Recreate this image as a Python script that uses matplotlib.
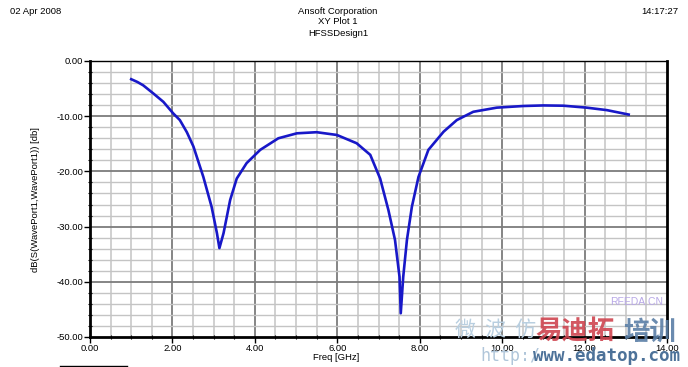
import matplotlib
matplotlib.use('Agg')
import matplotlib.pyplot as plt
from matplotlib.lines import Line2D
import numpy as np

# S11 curve
freq_ghz = [1.00, 1.15, 1.29, 1.54, 1.78, 2.02, 2.18, 2.35, 2.51, 2.75, 2.95, 3.08, 3.14,
            3.24, 3.40, 3.56, 3.80, 4.13, 4.57, 5.02, 5.50, 5.99, 6.47, 6.80, 7.04,
            7.24, 7.40, 7.51, 7.54, 7.60, 7.69, 7.81, 7.97, 8.21, 8.58, 8.90, 9.30,
            9.87, 10.52, 11.00, 11.49, 12.05, 12.54, 13.07]
s11_db = [-3.3, -3.8, -4.4, -5.9, -7.4, -9.5, -10.7, -12.9, -15.5, -21.0, -26.4, -31.2, -33.9,
          -31.2, -25.2, -21.3, -18.5, -16.1, -14.0, -13.1, -12.9, -13.4, -14.9, -17.0, -21.3,
          -27.0, -32.4, -39.1, -45.7, -39.1, -32.4, -26.4, -21.0, -16.1, -12.8, -10.7, -9.2,
          -8.45, -8.15, -8.05, -8.1, -8.45, -8.9, -9.7]

x_ticks = [0, 2, 4, 6, 8, 10, 12, 14]
y_ticks = [0, -10, -20, -30, -40, -50]

W, H = 688, 367
fig = plt.figure(figsize=(W / 100, H / 100), dpi=100)
fs = 6.8
font = 'Liberation Sans'
plt.rcParams['font.family'] = [font, 'DejaVu Sans']

ax = fig.add_axes([90 / W, 1 - 337 / H, (667 - 90) / W, (337 - 61) / H])
ax.set_xlim(0, 14)
ax.set_ylim(-50, 0)

# grid: light every 0.5 GHz / 2 dB, dark every 2 GHz / 10 dB
for xv in np.arange(0.5, 14, 0.5):
    dark = abs(xv / 2 - round(xv / 2)) < 1e-6
    ax.axvline(xv, color='#7c7c7c' if dark else '#c4c4c4', lw=1.3 if dark else 1.1, zorder=1)
for yv in np.arange(-48, 0, 2):
    dark = yv % 10 == 0
    ax.axhline(yv, color='#7c7c7c' if dark else '#c4c4c4', lw=1.3 if dark else 1.0, zorder=1)

ax.plot(freq_ghz, s11_db, color='#1818c8', lw=1.9, zorder=3, solid_joinstyle='round')

ax.set_xticks(x_ticks)
ax.set_xticklabels(['%.2f' % v for v in x_ticks], fontsize=fs)
ax.set_yticks(y_ticks)
ax.set_yticklabels(['%.2f' % v if v != 0 else '0.00' for v in y_ticks], fontsize=fs)
ax.set_yticks(np.arange(-48, 0, 2), minor=True)
ax.set_xticks(np.arange(0.5, 14, 0.5), minor=True)
ax.tick_params(axis='both', which='major', direction='out', length=4, width=1, pad=1)
ax.tick_params(axis='both', which='minor', direction='inout', length=3, width=0.8)

for side in ['left', 'bottom', 'right']:
    ax.spines[side].set_linewidth(2.0)
ax.spines['top'].set_linewidth(1.0)

fig.text(336 / W, 1 - 357 / H, 'Freq [GHz]', fontsize=fs, ha='center', va='center')
fig.text(36 / W, 1 - 200 / H, 'dB(S(WavePort1,WavePort1)) [db]', fontsize=fs,
         rotation=90, ha='center', va='center')

# header
fig.text(10 / W, 1 - 11 / H, '02 Apr 2008', fontsize=fs, ha='left', va='center')
fig.text(678 / W, 1 - 11 / H, '14:17:27', fontsize=fs, ha='right', va='center')
fig.text(338 / W, 1 - 11 / H, 'Ansoft Corporation', fontsize=fs, ha='center', va='center')
fig.text(338 / W, 1 - 22 / H, 'XY Plot 1', fontsize=fs, ha='center', va='center')
fig.text(338 / W, 1 - 33 / H, 'HFSSDesign1', fontsize=fs, ha='center', va='center')

# clipped legend box edge at the bottom left
fig.add_artist(Line2D([60 / W, 127 / W], [1.5 / H, 1.5 / H], color='black', lw=1.0))

# watermarks
cjk = ['Noto Sans CJK SC', 'DejaVu Sans']
fig.text(455 / W, 1 - 330 / H, '微  波  仿', fontsize=15, color='#b9cfe0',
         family=cjk, ha='left', va='center', style='italic')
fig.text(610 / W, 1 - 302 / H, 'RFEDA.CN', fontsize=7.5, color='#b8a8e6', ha='left', va='center')
fig.text(535 / W, 1 - 332 / H, '易迪拓', fontsize=19, color='#cf4550', family=cjk,
         weight='bold', ha='left', va='center', alpha=0.9)
fig.text(623 / W, 1 - 332 / H, '培训', fontsize=19, color='#5b7fa6', family=cjk,
         weight='bold', ha='left', va='center', alpha=0.9)
fig.text(480 / W, 1 - 356 / H, 'http:/', fontsize=12, color='#b0c6da',
         family='DejaVu Sans Mono', ha='left', va='center')
fig.text(533 / W, 1 - 356 / H, 'www.edatop.com', fontsize=12.6, color='#4d7299',
         family='DejaVu Sans Mono', weight='bold', ha='left', va='center')

fig.savefig('out.png', dpi=100)
